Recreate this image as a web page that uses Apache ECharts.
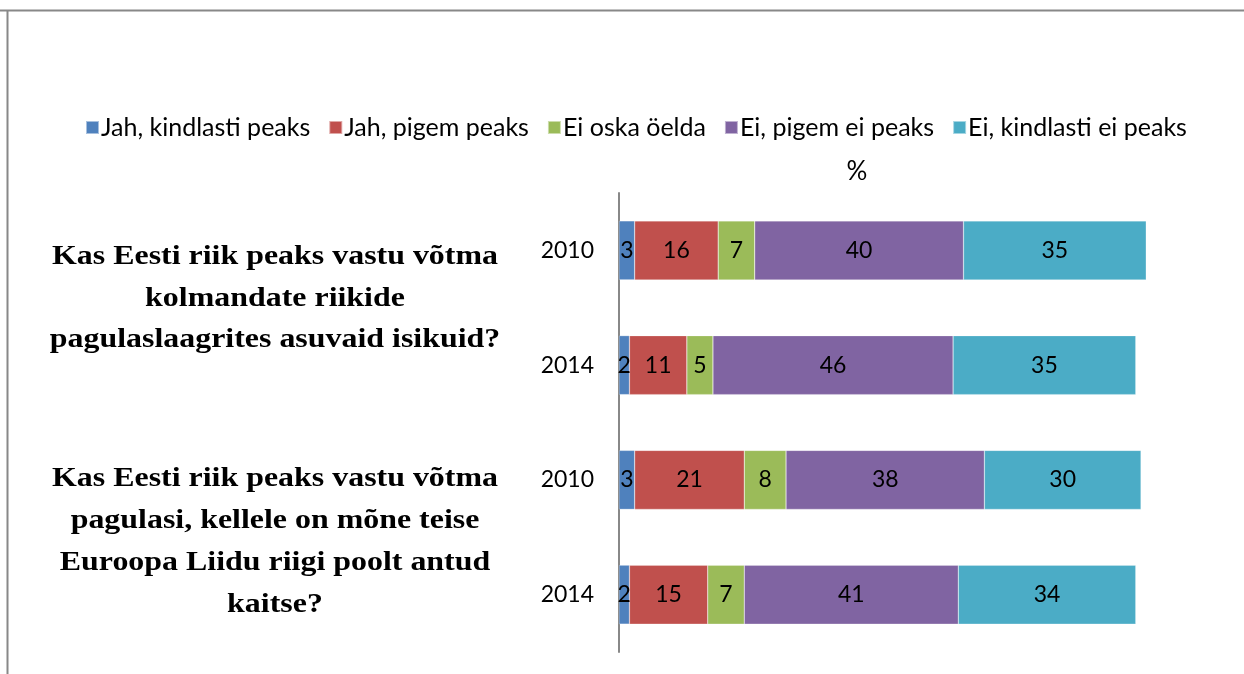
<!DOCTYPE html>
<html>
<head>
<meta charset="utf-8">
<script src="https://cdn.jsdelivr.net/npm/echarts@6/dist/echarts.min.js"></script>
<style>
html,body{margin:0;padding:0;background:#fff;}
#chart{width:1244px;height:674px;}
</style>
</head>
<body>
<div id="chart"></div>
<script>
// ---- data ----
var categories = ['q1-2010', 'q1-2014', 'q2-2010', 'q2-2014'];
var yearLabels = ['2010', '2014', '2010', '2014'];
var seriesNames = ['Jah, kindlasti peaks', 'Jah, pigem peaks', 'Ei oska öelda', 'Ei, pigem ei peaks', 'Ei, kindlasti ei peaks'];
var jahKindlasti = [3, 2, 3, 2];
var jahPigem = [16, 11, 21, 15];
var eiOska = [7, 5, 8, 7];
var eiPigem = [40, 46, 38, 41];
var eiKindlasti = [35, 35, 30, 34];
var question1 = ['Kas Eesti riik peaks vastu võtma', 'kolmandate riikide', 'pagulaslaagrites asuvaid isikuid?'];
var question2 = ['Kas Eesti riik peaks vastu võtma', 'pagulasi, kellele on mõne teise', 'Euroopa Liidu riigi poolt antud', 'kaitse?'];
var unitLabel = '%';

var colors = ['#4F81BD', '#C0504D', '#9BBB59', '#8064A2', '#4BACC6'];
var values = [jahKindlasti, jahPigem, eiOska, eiPigem, eiKindlasti];

var chart = echarts.init(document.getElementById('chart'));

var series = seriesNames.map(function (name, i) {
  return {
    name: name,
    type: 'bar',
    stack: 'total',
    barWidth: 59,
    data: values[i],
    itemStyle: { color: colors[i], borderColor: 'rgba(255,255,255,0.5)', borderWidth: 0.5 },
    label: {
      show: true,
      position: 'inside',
      color: '#000',
      fontFamily: 'Lato',
      fontSize: 23
    }
  };
});

var graphics = [
  { type: 'line', shape: { x1: 0, y1: 10.5, x2: 1244, y2: 10.5 }, style: { stroke: '#888', lineWidth: 2 } },
  { type: 'line', shape: { x1: 7.5, y1: 10, x2: 7.5, y2: 674 }, style: { stroke: '#888', lineWidth: 2 } },
  { type: 'text', x: 857, y: 172, style: { text: unitLabel, font: '26px Lato', fill: '#000', textAlign: 'center', textVerticalAlign: 'middle' } }
];
question1.forEach(function (t, i) {
  graphics.push({ type: 'text', x: 275, y: 257 + i * 41.5, scaleX: 1.14,
    style: { text: t, font: 'bold 28px "Liberation Serif"', fill: '#000', textAlign: 'center', textVerticalAlign: 'middle' } });
});
question2.forEach(function (t, i) {
  graphics.push({ type: 'text', x: 275, y: 479 + i * 42, scaleX: 1.14,
    style: { text: t, font: 'bold 28px "Liberation Serif"', fill: '#000', textAlign: 'center', textVerticalAlign: 'middle' } });
});

chart.setOption({
  animation: false,
  backgroundColor: '#fff',
  color: colors,
  legend: {
    top: 110,
    left: 80,
    itemWidth: 13,
    itemHeight: 13,
    itemGap: 18,
    icon: 'rect',
    textStyle: { fontFamily: 'Lato', fontSize: 25, color: '#000', padding: [0, 0, 0, -3] },
    data: seriesNames
  },
  grid: { left: 619, top: 193, width: 574.2, height: 459 },
  xAxis: {
    type: 'value',
    min: 0,
    max: 110,
    show: false
  },
  yAxis: {
    type: 'category',
    inverse: true,
    data: categories,
    axisLine: { show: true, lineStyle: { color: '#888', width: 2 } },
    axisTick: { show: false },
    axisLabel: {
      margin: 25,
      fontFamily: 'Lato',
      fontSize: 23,
      color: '#000',
      formatter: function (v, idx) { return yearLabels[idx]; }
    }
  },
  series: series,
  graphic: graphics
});
</script>
</body>
</html>
